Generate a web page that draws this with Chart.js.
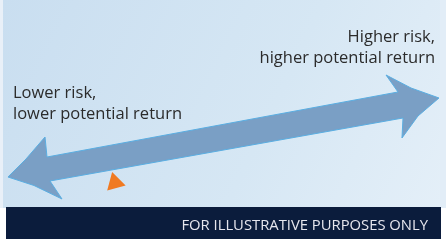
<!DOCTYPE html>
<html><head><meta charset="utf-8">
<script src="https://cdn.jsdelivr.net/npm/chart.js@4/dist/chart.umd.min.js"></script>
<style>html,body{margin:0;padding:0;background:#fff;overflow:hidden}#wrap{width:446px;height:241px;position:relative}</style>
</head><body><div id="wrap"><canvas id="c" width="446" height="241" style="width:446px;height:241px"></canvas></div>
<script>
// Risk (x, 0-100) and potential return (y, 0-100) — illustrative spectrum
const arrowRisk   = [1.79, 5.83, 10.09, 10.54, 89.24, 86.55, 92.15, 98.43, 93.72, 90.13, 90.36, 11.21, 13.90, 7.62, 1.79];
const arrowReturn = [26.56, 34.02, 43.15, 34.85, 61.83, 68.88, 63.49, 59.34, 51.87, 42.74, 51.04, 24.90, 17.43, 23.03, 26.56];
const markerRisk = [25.78];
const markerReturn = [24.19];
const lowLabel = ["Lower risk,", "lower potential return"];
const highLabel = ["Higher risk,", "higher potential return"];
const footnote = "FOR ILLUSTRATIVE PURPOSES ONLY";

const panelPlugin = {
  id: 'panel',
  beforeDraw(chart) {
    const ctx = chart.ctx, W = chart.width, H = chart.height;
    ctx.save();
    ctx.fillStyle = '#ffffff';
    ctx.fillRect(0, 0, W, H);
    ctx.fillStyle = '#e9f0f8';
    ctx.fillRect(0, 0, 3, 208);
    ctx.fillStyle = '#e2edf7';
    ctx.fillRect(440, 0, 6, 208);
    const g = ctx.createLinearGradient(3, 0, 440, 208);
    g.addColorStop(0, '#c9def0');
    g.addColorStop(0.6, '#d6e7f4');
    g.addColorStop(1, '#e4eff8');
    ctx.fillStyle = g;
    ctx.fillRect(3, 0, 437, 208);
    ctx.restore();
  },
  afterDraw(chart) {
    const ctx = chart.ctx;
    ctx.save();
    ctx.fillStyle = '#0b1c3c';
    ctx.fillRect(6, 207, 435, 32);
    ctx.fillStyle = '#e6e6ee';
    ctx.font = '14.8px "Open Sans"';
    ctx.textAlign = 'right';
    ctx.textBaseline = 'alphabetic';
    ctx.fillText(footnote, 428, 230);
    ctx.fillStyle = '#2b2b2b';
    ctx.font = '16.5px "Open Sans"';
    ctx.textAlign = 'left';
    lowLabel.forEach((t, i) => ctx.fillText(t, 13, 98 + i * 20.5));
    ctx.textAlign = 'right';
    highLabel.forEach((t, i) => ctx.fillText(t, 435, 42 + i * 20.5));
    ctx.restore();
  }
};

new Chart(document.getElementById('c'), {
  type: 'line',
  data: {
    datasets: [
      {
        label: 'Risk/return spectrum',
        data: arrowRisk.map((x, i) => ({x, y: arrowReturn[i]})),
        borderColor: '#5aaee2',
        borderWidth: 1,
        backgroundColor: '#7a9fc5',
        fill: 'shape',
        tension: 0,
        pointRadius: 0,
        clip: false,
        order: 2
      },
      {
        type: 'scatter',
        label: 'Position',
        data: markerRisk.map((x, i) => ({x, y: markerReturn[i]})),
        pointStyle: 'triangle',
        pointRadius: 11,
        rotation: -15,
        backgroundColor: '#f07a22',
        borderWidth: 0,
        clip: false,
        order: 1
      }
    ]
  },
  options: {
    responsive: false,
    animation: false,
    devicePixelRatio: 1,
    layout: { padding: 0, autoPadding: false },
    plugins: { legend: { display: false }, tooltip: { enabled: false }, title: { display: false } },
    scales: {
      x: { type: 'linear', min: 0, max: 100, display: false },
      y: { type: 'linear', min: 0, max: 100, display: false }
    }
  },
  plugins: [panelPlugin]
});
</script>
</body></html>
